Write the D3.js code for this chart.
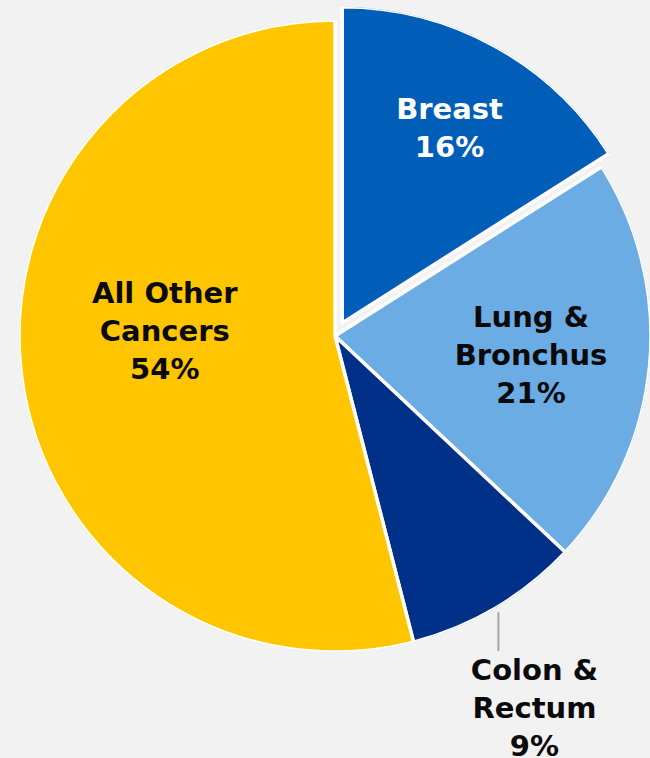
<!DOCTYPE html>
<html lang="en">
<head>
    <meta charset="utf-8" />
    <title>Cancer share pie</title>
    <script src="https://d3js.org/d3.v7.min.js"></script>
</head>
<style>
    body {
        margin: 0;
        background: #f2f2f2;
    }

    text {
        font-family: "DejaVu Sans", Verdana, sans-serif;
        font-weight: bold;
        font-size: 29px;
        text-anchor: middle;
    }
</style>
<body>
    <div id="chart"></div>
<script>
    // data
    var categories = ["Breast", "Lung & Bronchus", "Colon & Rectum", "All Other Cancers"];
    var labelLines = [["Breast"], ["Lung &", "Bronchus"], ["Colon &", "Rectum"], ["All Other", "Cancers"]];
    var values = [16, 21, 9, 54];

    var colors = ["#005eb8", "#6cace4", "#003087", "#ffc600"];
    var textColors = ["#ffffff", "#0a0a0a", "#0a0a0a", "#0a0a0a"];

    var width = 650, height = 758;
    var cx = 335, cy = 336, r = 316;
    var lineH = 38;

    // label placement per slice: radius factor, extra nudge, explode distance
    var placement = [
        { k: 0.705, dx: 0, dy: 0, explode: 15 },
        { k: 0.623, dx: 0, dy: 0, explode: 0 },
        { outside: true, explode: 0 },
        { k: 0.543, dx: 0, dy: -27, explode: 0 }
    ];

    var svg = d3.select("#chart").append("svg")
        .attr("width", width)
        .attr("height", height);

    // keep the white separators inside the disc (no outer rim)
    svg.append("defs").append("clipPath")
        .attr("id", "disc")
        .append("circle")
        .attr("r", r);

    var g = svg.append("g")
        .attr("transform", "translate(" + cx + "," + cy + ")");

    var pie = d3.pie().sort(null).value(function (d) { return d; });
    var arcs = pie(values);

    var arc = d3.arc().innerRadius(0).outerRadius(r);

    function midDir(d) {
        var a = (d.startAngle + d.endAngle) / 2;
        return [Math.sin(a), -Math.cos(a)];
    }

    var slice = g.selectAll(".slice")
        .data(arcs)
        .enter().append("g")
        .attr("class", "slice")
        .attr("transform", function (d, i) {
            var m = midDir(d), e = placement[i].explode;
            return "translate(" + (m[0] * e) + "," + (m[1] * e) + ")";
        });

    slice.append("path")
        .attr("d", arc)
        .attr("clip-path", "url(#disc)")
        .attr("fill", function (d, i) { return colors[i]; })
        .attr("stroke", "#ffffff")
        .attr("stroke-width", 3.5)
        .attr("stroke-linejoin", "round");

    slice.each(function (d, i) {
        var p = placement[i];
        var m = midDir(d);
        var lines = labelLines[i].concat([values[i] + "%"]);
        var x, y;
        var sel = d3.select(this);
        if (p.outside) {
            var x0 = m[0] * (r + 5), y0 = m[1] * (r + 5);
            var y1 = 651 - cy;
            sel.append("line")
                .attr("x1", x0).attr("y1", y0)
                .attr("x2", x0).attr("y2", y1)
                .attr("stroke", "#a6a6a6")
                .attr("stroke-width", 2);
            x = x0 + 36;
            var firstBase = y1 + 29;
            y = firstBase + (lines.length - 1) * lineH / 2 - 10.5;
        } else {
            x = m[0] * r * p.k + p.dx;
            y = m[1] * r * p.k + p.dy;
        }
        var t = sel.append("text")
            .attr("fill", textColors[i]);
        var start = y - (lines.length - 1) * lineH / 2 + 10.5;
        lines.forEach(function (s, j) {
            t.append("tspan")
                .attr("x", x)
                .attr("y", start + j * lineH)
                .text(s);
        });
    });
</script>
</body>
</html>
